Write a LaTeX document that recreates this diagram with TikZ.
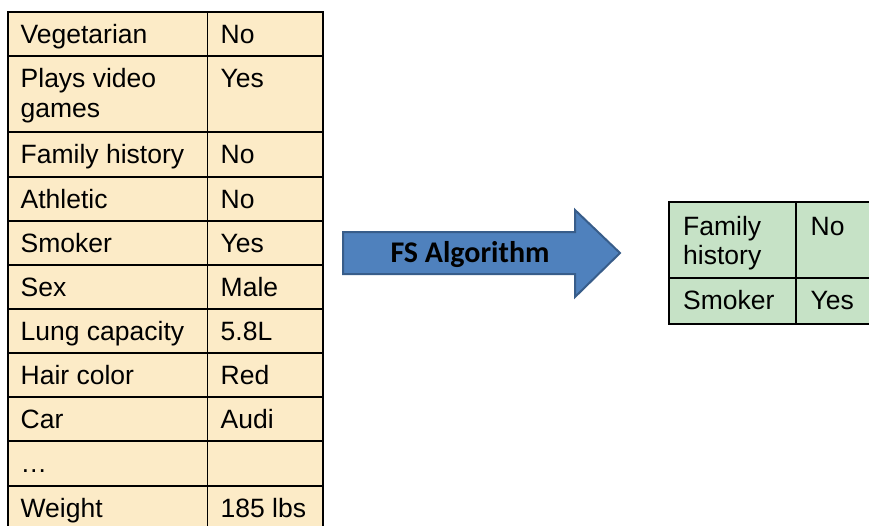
\documentclass[tikz,border=0pt]{standalone}
\usepackage{fontspec}
\setmainfont{Liberation Sans}
\newfontfamily\calibri{Carlito}
\definecolor{featfill}{HTML}{FCEBC7}
\definecolor{keptfill}{HTML}{C6E2C6}
\definecolor{algofill}{HTML}{4F81BD}
\definecolor{algoline}{HTML}{385D8A}

\begin{document}
\begin{tikzpicture}[
  x=1pt,
  y=-1pt,
  every node/.style={font=\fontsize{26.5}{30}\selectfont, align=left, inner sep=0pt},
  cell/.style={anchor=base west},
  celltop/.style={anchor=north west},
  grid/.style={draw=black, line width=1.3pt},
  algo/.style={draw=algoline, line width=2pt, fill=algofill, line join=miter},
  algolabel/.style={font=\calibri\bfseries\fontsize{30}{34}\selectfont, anchor=base}
]
\path[use as bounding box, clip] (0,0) rectangle (869,525);

% all features
\fill[featfill] (8,12) rectangle (323,535);
\draw[grid] (8,535) -- (8,12) -- (323,12) -- (323,535)
  (207.5,12) -- (207.5,535)
  (8,56) -- (323,56)
  (8,132) -- (323,132)
  (8,177) -- (323,177)
  (8,221) -- (323,221)
  (8,265) -- (323,265)
  (8,309) -- (323,309)
  (8,353) -- (323,353)
  (8,397) -- (323,397)
  (8,441) -- (323,441)
  (8,486) -- (323,486);

\node[cell] (vegetarian) at (20.5,43) {Vegetarian};
\node[cell] (vegetarian-v) at (220.5,43) {No};
\node[celltop] (videogames) at (20.5,68.5) {Plays video\\games};
\node[cell] (videogames-v) at (220.5,87) {Yes};
\node[cell] (family) at (20.5,163) {Family history};
\node[cell] (family-v) at (220.5,163) {No};
\node[cell] (athletic) at (20.5,208) {Athletic};
\node[cell] (athletic-v) at (220.5,208) {No};
\node[cell] (smoker) at (20.5,252) {Smoker};
\node[cell] (smoker-v) at (220.5,252) {Yes};
\node[cell] (sex) at (20.5,296) {Sex};
\node[cell] (sex-v) at (220.5,296) {Male};
\node[cell] (lung) at (20.5,340) {Lung capacity};
\node[cell] (lung-v) at (220.5,340) {5.8L};
\node[cell] (hair) at (20.5,384) {Hair color};
\node[cell] (hair-v) at (220.5,384) {Red};
\node[cell] (car) at (20.5,428) {Car};
\node[cell] (car-v) at (220.5,428) {Audi};
\node[cell] (more) at (20.5,472) {…};
\node[cell] (weight) at (20.5,517) {Weight};
\node[cell] (weight-v) at (220.5,517) {185 lbs};

% selection step
\draw[algo] (343,232) -- (575,232) -- (575,210) -- (620,253)
  -- (575,297) -- (575,274) -- (343,274) -- cycle;
\node[algolabel] (fs) at (470,262) {FS Algorithm};

% kept features
\fill[keptfill] (669,202) rectangle (880,324);
\draw[grid] (880,202) -- (669,202) -- (669,324) -- (880,324)
  (796,202) -- (796,324)
  (669,278) -- (880,278);

\node[celltop, font=\fontsize{26.5}{29}\selectfont] (family2) at (683,216.5) {Family\\history};
\node[cell] (family2-v) at (810.5,235) {No};
\node[cell] (smoker2) at (683,309) {Smoker};
\node[cell] (smoker2-v) at (810.5,309) {Yes};

\end{tikzpicture}
\end{document}
